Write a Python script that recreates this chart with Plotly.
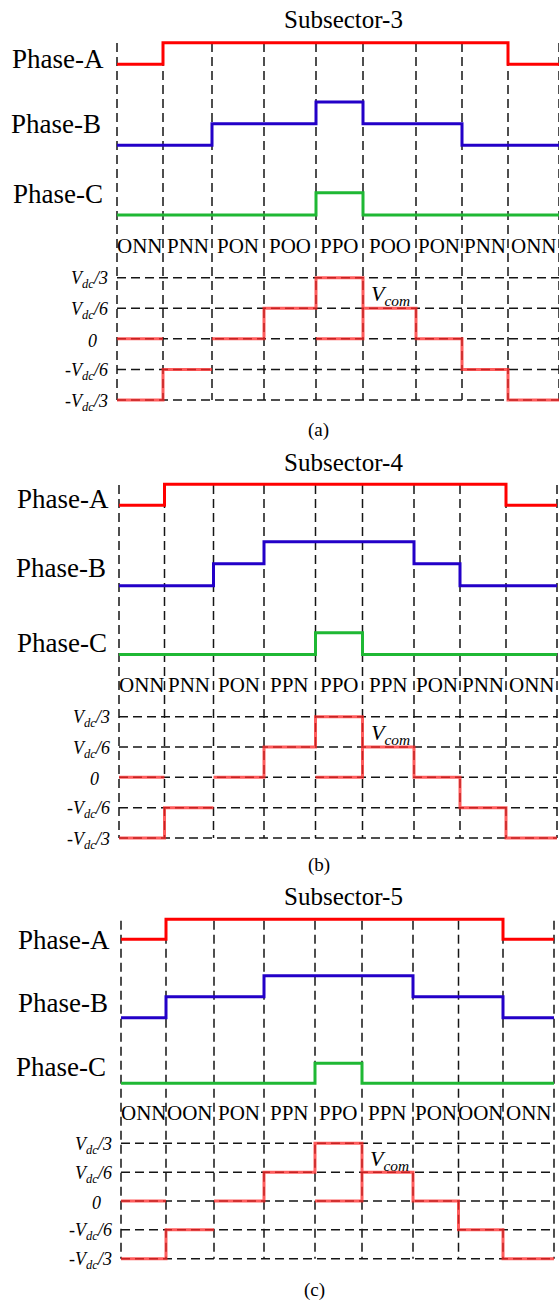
import plotly.graph_objects as go

W, H = 559, 1300
FONT = "Liberation Serif"

# ---------------- data ----------------
titles = ["Subsector-3", "Subsector-4", "Subsector-5"]
captions = ["(a)", "(b)", "(c)"]

# segment boundaries along the switching period (time units)
edges_3 = [0, 46, 95, 147, 199, 246, 299, 345, 391, 442]
edges_4 = [0, 45.5, 94.5, 145, 196.5, 243.5, 295, 341, 387, 438]
edges_5 = [0, 45, 93, 143, 194, 241, 292, 337.5, 382, 433]

# switching state applied in each segment
states_3 = ["ONN", "PNN", "PON", "POO", "PPO", "POO", "PON", "PNN", "ONN"]
states_4 = ["ONN", "PNN", "PON", "PPN", "PPO", "PPN", "PON", "PNN", "ONN"]
states_5 = ["ONN", "OON", "PON", "PPN", "PPO", "PPN", "PON", "OON", "ONN"]

# phase output level in each segment (0 = lowest level drawn)
phase_a_3 = [0, 1, 1, 1, 1, 1, 1, 1, 0]
phase_b_3 = [0, 0, 1, 1, 2, 1, 1, 0, 0]
phase_c_3 = [0, 0, 0, 0, 1, 0, 0, 0, 0]

phase_a_4 = [0, 1, 1, 1, 1, 1, 1, 1, 0]
phase_b_4 = [0, 0, 1, 2, 2, 2, 1, 0, 0]
phase_c_4 = [0, 0, 0, 0, 1, 0, 0, 0, 0]

phase_a_5 = [0, 1, 1, 1, 1, 1, 1, 1, 0]
phase_b_5 = [0, 1, 1, 2, 2, 2, 1, 1, 0]
phase_c_5 = [0, 0, 0, 0, 1, 0, 0, 0, 0]

# common-mode voltage per segment (fraction of Vdc)
vcom_3 = [-1/3, -1/6, 0, 1/6, 1/3, 1/6, 0, -1/6, -1/3]
vcom_4 = [-1/3, -1/6, 0, 1/6, 1/3, 1/6, 0, -1/6, -1/3]
vcom_5 = [-1/3, -1/6, 0, 1/6, 1/3, 1/6, 0, -1/6, -1/3]

# boundaries where the Vcom trace is not joined by a riser
vcom_open_3 = [2]
vcom_open_4 = [2]
vcom_open_5 = [2]

# additional Vcom pieces: (segment, level, joined to next segment)
vcom_extra_3 = [(0, 0.0, False), (4, 0.0, True)]
vcom_extra_4 = [(0, 0.0, False), (4, 0.0, True)]
vcom_extra_5 = [(0, 0.0, False), (4, 0.0, True)]

vcom_ticks = [1/3, 1/6, 0, -1/6, -1/3]
vcom_ticktext = ["<i>V<sub>dc</sub>/3</i>", "<i>V<sub>dc</sub>/6</i>", "<i>0</i>",
                 "<i>-V<sub>dc</sub>/6</i>", "<i>-V<sub>dc</sub>/3</i>"]
phase_names = ["Phase-A", "Phase-B", "Phase-C"]

# ---------------- layout of the three panels (pixels) ----------------
panels = [
    dict(edges=edges_3, states=states_3, phases=[phase_a_3, phase_b_3, phase_c_3],
         vcom=vcom_3, vopen=vcom_open_3, vextra=vcom_extra_3,
         left=117, rows=[(64.3, 21.6), (145.3, 21.65), (215, 22.3)],
         vc_top=277.7, vc_bot=400, grid_top=43,
         name_pos=[(105, 59), (101.7, 124), (104, 194)],
         state_y=246.3, title_y=20, cap=(318, 430)),
    dict(edges=edges_4, states=states_4, phases=[phase_a_4, phase_b_4, phase_c_4],
         vcom=vcom_4, vopen=vcom_open_4, vextra=vcom_extra_4,
         left=119, rows=[(505.3, 21), (585.7, 22), (654.5, 21.8)],
         vc_top=716.7, vc_bot=838, grid_top=485,
         name_pos=[(110, 499.5), (106.7, 568.3), (108.3, 642.5)],
         state_y=685, title_y=462.5, cap=(319, 865)),
    dict(edges=edges_5, states=states_5, phases=[phase_a_5, phase_b_5, phase_c_5],
         vcom=vcom_5, vopen=vcom_open_5, vextra=vcom_extra_5,
         left=121, rows=[(939.3, 20), (1017.7, 21), (1083.3, 20)],
         vc_top=1143.3, vc_bot=1258.7, grid_top=920.7,
         name_pos=[(111, 939.5), (109.3, 1002.5), (107.3, 1066.7)],
         state_y=1112.5, title_y=896.7, cap=(314, 1290)),
]

phase_colors = ["#ff0000", "#2300c8", "#1fb834"]
vcom_color = "rgb(255,40,40)"
grid_line = dict(color="#151515", width=1.5, dash="9px,5px")


def step_path(edges, levels, open_edges=()):
    xs, ys = [], []
    for i, lv in enumerate(levels):
        if i == 0 or i in open_edges:
            if xs:
                xs.append(None)
                ys.append(None)
            xs.append(edges[i])
            ys.append(lv)
        else:
            xs.append(edges[i])
            ys.append(lv)
        xs.append(edges[i + 1])
        ys.append(lv)
    return xs, ys


def px_x(p):
    return p / W


def px_y(p):
    return 1 - p / H


def axis_range(zero_px, step_px):
    # y range so that value 0 sits at zero_px and 1 unit spans step_px
    return [(zero_px - H) / step_px, zero_px / step_px]


fig = go.Figure()
layout = dict(width=W, height=H, margin=dict(l=0, r=0, t=0, b=0),
              paper_bgcolor="white", plot_bgcolor="white", showlegend=False)
shapes, annotations = [], []

for p, pn in enumerate(panels):
    xname = "x" if p == 0 else f"x{p + 1}"
    xkey = "xaxis" if p == 0 else f"xaxis{p + 1}"
    xl = pn["left"]
    xax = dict(range=[-xl, W - xl], domain=[0, 1], visible=False, anchor="y")
    if p > 0:
        xax["overlaying"] = "x"
    layout[xkey] = xax
    edges = pn["edges"]

    # phase rows
    for r in range(3):
        idx = p * 4 + r + 1
        yname = "y" if idx == 1 else f"y{idx}"
        ykey = "yaxis" if idx == 1 else f"yaxis{idx}"
        low, step = pn["rows"][r]
        yax = dict(range=axis_range(low, step), domain=[0, 1], visible=False, anchor="x")
        if idx > 1:
            yax["overlaying"] = "y"
        layout[ykey] = yax
        xs, ys = step_path(edges, pn["phases"][r])
        fig.add_trace(go.Scatter(x=xs, y=ys, mode="lines", xaxis=xname, yaxis=yname,
                                 line=dict(color=phase_colors[r], width=3),
                                 hoverinfo="skip"))
        nx, ny = pn["name_pos"][r]
        annotations.append(dict(text=phase_names[r], xref="paper", yref="paper",
                                x=px_x(nx), y=px_y(ny), xanchor="right", yanchor="middle",
                                showarrow=False, borderpad=0,
                                font=dict(family=FONT, size=27, color="black")))

    # common-mode voltage row
    idx = p * 4 + 4
    yname = f"y{idx}"
    ykey = f"yaxis{idx}"
    vstep = (pn["vc_bot"] - pn["vc_top"]) / (2 / 3)
    vzero = (pn["vc_bot"] + pn["vc_top"]) / 2
    layout[ykey] = dict(range=axis_range(vzero, vstep), domain=[0, 1], visible=False,
                        anchor="x", overlaying="y")
    xs, ys = step_path(edges, pn["vcom"], pn["vopen"])
    for seg, lv, join in pn["vextra"]:
        xs += [None, edges[seg], edges[seg + 1]]
        ys += [None, lv, lv]
        if join:
            xs.append(edges[seg + 1])
            ys.append(pn["vcom"][seg + 1])
    fig.add_trace(go.Scatter(x=xs, y=ys, mode="lines", xaxis=xname, yaxis=yname,
                             line=dict(color=vcom_color, width=3), opacity=0.75,
                             hoverinfo="skip"))

    # dashed grid
    for e in edges:
        shapes.append(dict(type="line", xref=xname, yref="paper", x0=e, x1=e,
                           y0=px_y(pn["grid_top"]), y1=px_y(pn["vc_bot"]),
                           line=grid_line, layer="below"))
    for v in vcom_ticks:
        shapes.append(dict(type="line", xref=xname, yref=yname, x0=edges[0], x1=edges[-1],
                           y0=v, y1=v, line=grid_line, layer="below"))

    # Vcom tick labels
    for v, t in zip(vcom_ticks, vcom_ticktext):
        xr = xl - 8.5 if v != 0 else xl - 19
        annotations.append(dict(text=t, xref="paper", yref=yname, x=px_x(xr), y=v,
                                xanchor="right", yanchor="middle", yshift=-2,
                                showarrow=False, borderpad=0,
                                font=dict(family=FONT, size=18, color="black")))

    # switching state labels
    for i, s in enumerate(pn["states"]):
        annotations.append(dict(text=s, xref=xname, yref="paper",
                                x=(edges[i] + edges[i + 1]) / 2, y=px_y(pn["state_y"]),
                                xanchor="center", yanchor="middle", showarrow=False,
                                borderpad=0, font=dict(family=FONT, size=21, color="black")))

    # Vcom label
    annotations.append(dict(text="<i>V<sub>com</sub></i>", xref=xname, yref=yname,
                            x=edges[5] + 7, y=0.25, xanchor="left", yanchor="middle",
                            yshift=-2, showarrow=False, borderpad=0,
                            font=dict(family=FONT, size=22, color="black")))

    # title and caption
    annotations.append(dict(text=titles[p], xref="paper", yref="paper", x=px_x(343),
                            y=px_y(pn["title_y"]), xanchor="center", yanchor="middle",
                            showarrow=False, borderpad=0,
                            font=dict(family=FONT, size=25, color="black")))
    cx, cy = pn["cap"]
    annotations.append(dict(text=captions[p], xref="paper", yref="paper", x=px_x(cx),
                            y=px_y(cy), xanchor="center", yanchor="middle",
                            showarrow=False, borderpad=0,
                            font=dict(family=FONT, size=19, color="black")))

layout["shapes"] = shapes
layout["annotations"] = annotations
fig.update_layout(**layout)
fig.write_html("out.html")
